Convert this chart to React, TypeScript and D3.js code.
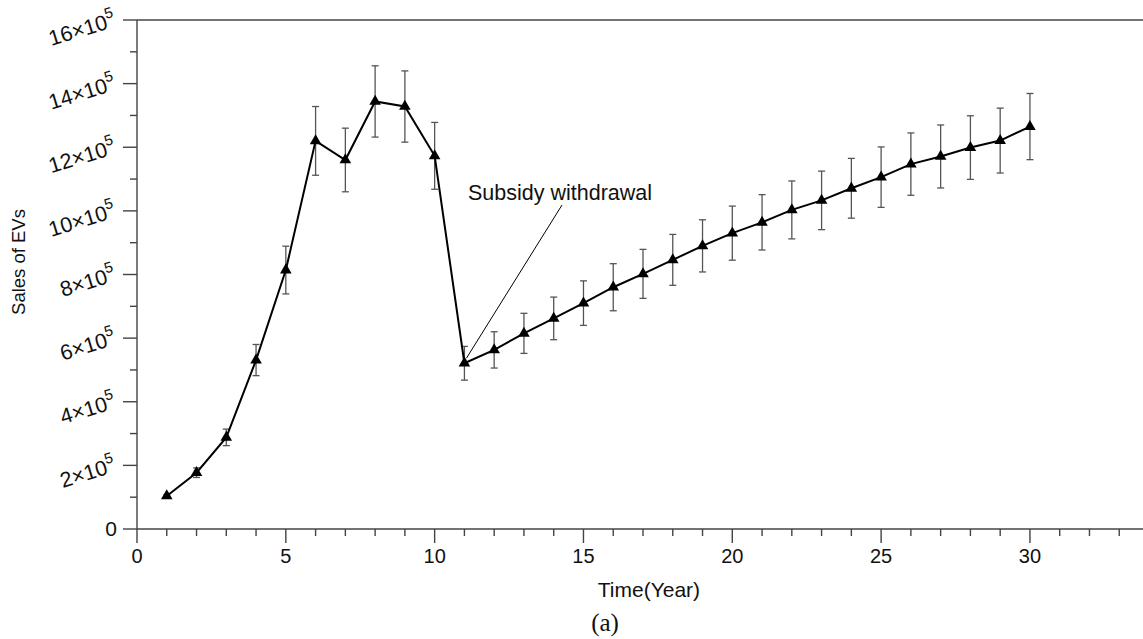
import React from "react";
import * as d3 from "d3";

const WIDTH = 1143;
const HEIGHT = 639;

// sales in units of 10^5
const years = d3.range(1, 31);
const salesE5 = [
  1.04, 1.77, 2.88, 5.31, 8.14, 12.2, 11.6, 13.44, 13.28, 11.73,
  5.21, 5.63, 6.15, 6.62, 7.1, 7.6, 8.02, 8.46, 8.9, 9.3,
  9.64, 10.03, 10.33, 10.71, 11.06, 11.47, 11.71, 11.99, 12.21, 12.65,
];
const errE5 = [
  0.03, 0.15, 0.26, 0.49, 0.75, 1.08, 1.0, 1.12, 1.12, 1.05,
  0.53, 0.57, 0.63, 0.67, 0.7, 0.74, 0.77, 0.8, 0.82, 0.85,
  0.87, 0.91, 0.92, 0.94, 0.95, 0.98, 0.99, 1.0, 1.02, 1.04,
];
const yMajorTicks = [0, 2, 4, 6, 8, 10, 12, 14, 16];
const xMajorTicks = [0, 5, 10, 15, 20, 25, 30];
const annotation = { year: 11, label: "Subsidy withdrawal" };

const FONT = "'Liberation Sans', Arial, Helvetica, sans-serif";
const AXIS = "#444";

export default function App() {
  const x = d3.scaleLinear().domain([0, 34]).range([137, 1149]);
  const y = d3.scaleLinear().domain([0, 16]).range([529, 20]);

  const pts = years.map((yr, i) => ({ yr, v: salesE5[i], e: errE5[i] }));
  const line = d3.line<{ yr: number; v: number }>()
    .x(d => x(d.yr))
    .y(d => y(d.v));
  const tri = d3.symbol(d3.symbolTriangle, 58)() || "";

  const xMinor = d3.range(1, 34).filter(t => t % 5 !== 0);
  const yMinor = d3.range(1, 16).filter(t => t % 2 !== 0);

  const ann = pts.find(p => p.yr === annotation.year)!;
  const lx = x(0) - 20;

  return (
    <svg width={WIDTH} height={HEIGHT} style={{ position: "absolute", left: 0, top: 0, background: "#fff" }}
         fontFamily={FONT}>
      {/* axes */}
      <g stroke={AXIS} strokeWidth={1.4}>
        <line x1={x(0)} x2={WIDTH} y1={y(0)} y2={y(0)} />
        <line x1={x(0)} x2={x(0)} y1={y(16)} y2={y(0)} />
        <line x1={x(0)} x2={WIDTH} y1={y(16)} y2={y(16)} />
        {xMajorTicks.map(t => <line key={"xm" + t} x1={x(t)} x2={x(t)} y1={y(0)} y2={y(0) + 14} />)}
        {xMinor.map(t => <line key={"xn" + t} x1={x(t)} x2={x(t)} y1={y(0)} y2={y(0) + 7} />)}
        {yMajorTicks.map(t => <line key={"ym" + t} x1={x(0) - 14} x2={x(0)} y1={y(t)} y2={y(t)} />)}
        {yMinor.map(t => <line key={"yn" + t} x1={x(0) - 7} x2={x(0)} y1={y(t)} y2={y(t)} />)}
      </g>

      {/* tick labels */}
      <g fill="#111">
        {xMajorTicks.map(t => (
          <text key={"xl" + t} x={x(t)} y={y(0) + 34} textAnchor="middle" fontSize={20}>{t}</text>
        ))}
        {yMajorTicks.map(t => t === 0 ? (
          <text key="yl0" x={lx} y={y(0)} dy="0.35em" textAnchor="end" fontSize={21}>0</text>
        ) : (
          <text key={"yl" + t} x={lx} y={y(t) + 6} textAnchor="end" fontSize={21.5}
                transform={`rotate(-17, ${lx}, ${y(t) + 6})`}>
            {t}×10<tspan fontSize={15} dy={-10}>5</tspan>
          </text>
        ))}
      </g>

      {/* axis titles */}
      <text x={x(17.2)} y={597} textAnchor="middle" fontSize={21} fill="#111">Time(Year)</text>
      <text x={605} y={631} textAnchor="middle" fontSize={25} fill="#111"
            fontFamily="'Liberation Serif', 'Times New Roman', serif">(a)</text>
      <text transform={`translate(25, 262) rotate(-90)`} textAnchor="middle" fontSize={18.5} fill="#111">
        Sales of EVs
      </text>

      {/* error bars */}
      <g stroke="#555" strokeWidth={1.3}>
        {pts.map(p => (
          <g key={"e" + p.yr}>
            <line x1={x(p.yr)} x2={x(p.yr)} y1={y(p.v + p.e)} y2={y(p.v - p.e)} />
            <line x1={x(p.yr) - 3.5} x2={x(p.yr) + 3.5} y1={y(p.v + p.e)} y2={y(p.v + p.e)} />
            <line x1={x(p.yr) - 3.5} x2={x(p.yr) + 3.5} y1={y(p.v - p.e)} y2={y(p.v - p.e)} />
          </g>
        ))}
      </g>

      {/* series */}
      <path d={line(pts) || ""} fill="none" stroke="#000" strokeWidth={2} />
      {pts.map(p => (
        <path key={"m" + p.yr} d={tri} transform={`translate(${x(p.yr)},${y(p.v)})`} fill="#000" />
      ))}

      {/* annotation */}
      <line x1={x(ann.yr) + 2} y1={y(ann.v) - 5} x2={562} y2={205} stroke="#000" strokeWidth={1} />
      <text x={468} y={200} fontSize={21.5} fill="#111">{annotation.label}</text>
    </svg>
  );
}
